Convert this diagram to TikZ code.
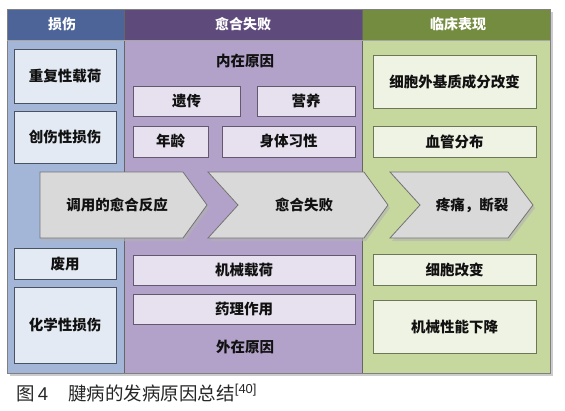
\documentclass[tikz,border=0pt]{standalone}
\usepackage{fontspec}
\setmainfont{Noto Sans CJK SC}
\newfontfamily\latinf{Liberation Sans}
\definecolor{hdrL}{HTML}{4D6498}
\definecolor{hdrM}{HTML}{5F4A7C}
\definecolor{hdrR}{HTML}{748C40}
\definecolor{bodyL}{HTML}{A3B6D8}
\definecolor{bodyM}{HTML}{B2A2CA}
\definecolor{bodyR}{HTML}{C7D89F}
\definecolor{boxL}{HTML}{E4EAF4}
\definecolor{boxM}{HTML}{E7E1EF}
\definecolor{boxR}{HTML}{EFF3E3}
\definecolor{chev}{HTML}{D9D9D9}
\definecolor{txt}{HTML}{111111}
\begin{document}
\begin{tikzpicture}[x=1pt,y=-1pt,
  hdrtext/.style={text=white,font=\fontsize{14}{16}\selectfont\bfseries},
  lbl/.style={text=txt,font=\fontsize{14.5}{17}\selectfont\bfseries},
  boxbase/.style={lbl,inner sep=0pt,line width=0.9pt},
  lbox/.style={boxbase,fill=boxL,draw=black!55!bodyL},
  mbox/.style={boxbase,fill=boxM,draw=black!45!bodyM},
  rbox/.style={boxbase,fill=boxR,draw=black!45!bodyR},
  chevstyle/.style={fill=chev,draw=black!55,line width=0.8pt},
  chevshadow/.style={fill=black!30,draw=none,opacity=0.6}
]
\useasboundingbox (0,0) rectangle (565,410);
% frame shadow
\fill[black!20] (10,12) rectangle (553,376);
% column bodies
\fill[bodyL] (7,40) rectangle (124,373);
\fill[bodyM] (124,40) rectangle (362,373);
\fill[bodyR] (362,40) rectangle (550,373);
% headers
\fill[hdrL] (7,9) rectangle (124,40);
\fill[hdrM] (124,9) rectangle (362,40);
\fill[hdrR] (362,9) rectangle (550,40);
\draw[black!60,line width=0.8pt] (124,9) -- (124,373);
\draw[black!60,line width=0.8pt] (362,9) -- (362,373);
\draw[black!50,line width=0.8pt] (7,9) rectangle (550,373);
\draw[black!35,line width=0.6pt] (7,40) -- (550,40);
\node[hdrtext] (hL) at (62,24.5) {损伤};
\node[hdrtext] (hM) at (243,24.5) {愈合失败};
\node[hdrtext] (hR) at (458,24.5) {临床表现};
% left boxes
\node[lbox,minimum width=102pt,minimum height=54pt] (l1) at (65,76) {重复性载荷};
\node[lbox,minimum width=102pt,minimum height=52pt] (l2) at (65,137) {创伤性损伤};
\node[lbox,minimum width=102pt,minimum height=31pt] (l3) at (65,263.5) {废用};
\node[lbox,minimum width=102pt,minimum height=76pt] (l4) at (65,325) {化学性损伤};
% middle
\node[lbl] (inner) at (245,61) {内在原因};
\node[mbox,minimum width=107pt,minimum height=30pt] (m1) at (186.5,101) {遗传};
\node[mbox,minimum width=98pt,minimum height=30pt] (m2) at (306,101) {营养};
\node[mbox,minimum width=75pt,minimum height=31pt] (m3) at (170.5,141.5) {年龄};
\node[mbox,minimum width=133pt,minimum height=31pt] (m4) at (288.5,141.5) {身体习性};
\node[mbox,minimum width=222pt,minimum height=30pt] (m5) at (244,270) {机械载荷};
\node[mbox,minimum width=222pt,minimum height=30pt] (m6) at (244,309) {药理作用};
\node[lbl] (outer) at (245,347) {外在原因};
% right
\node[rbox,minimum width=163pt,minimum height=53pt] (r1) at (454.5,81.5) {细胞外基质成分改变};
\node[rbox,minimum width=163pt,minimum height=31pt] (r2) at (454.5,141.5) {血管分布};
\node[rbox,minimum width=163pt,minimum height=31pt] (r3) at (454.5,269.5) {细胞改变};
\node[rbox,minimum width=163pt,minimum height=53pt] (r4) at (454.5,326.5) {机械性能下降};
% chevron shadows
\fill[chevshadow] (42,175) -- (185,175) -- (209,208) -- (185,241) -- (42,241) -- cycle;
\fill[chevshadow] (210,175) -- (366,175) -- (390,208) -- (366,241) -- (210,241) -- (240,208) -- cycle;
\fill[chevshadow] (392,175) -- (510,175) -- (535,208) -- (510,241) -- (392,241) -- (422,208) -- cycle;
% chevrons
\draw[chevstyle] (40,172) -- (183,172) -- (207,205) -- (183,238) -- (40,238) -- cycle;
\draw[chevstyle] (208,172) -- (364,172) -- (388,205) -- (364,238) -- (208,238) -- (238,205) -- cycle;
\draw[chevstyle] (390,172) -- (508,172) -- (533,205) -- (508,238) -- (390,238) -- (420,205) -- cycle;
\node[lbl] (c1) at (117,205) {调用的愈合反应};
\node[lbl] (c2) at (304,205) {愈合失败};
\node[lbl] (c3) at (472,205) {疼痛，断裂};
% caption
\node[anchor=west,inner sep=0pt,text=black!85,font=\fontsize{18.5}{21}\selectfont] (cap) at (16,393)
  {图\,{\latinf 4}\hspace{1.1em}腱病的发病原因总结\textsuperscript{\latinf [40]}};
\end{tikzpicture}
\end{document}
